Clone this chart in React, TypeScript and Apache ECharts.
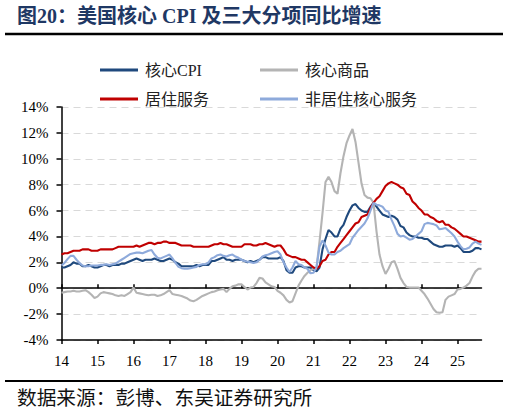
import React, { useEffect, useRef } from "react";
import * as echarts from "echarts";

// Year tick labels (Jan of each year)
const YEARS = ["14", "15", "16", "17", "18", "19", "20", "21", "22", "23", "24", "25"];
const MONTH_NUMS = ["01", "02", "03", "04", "05", "06", "07", "08", "09", "10", "11", "12"];
const LAST_MONTH_COUNT = 9; // data runs through 2025-09

const MONTHS: string[] = [];
YEARS.forEach((y, yi) => {
  const n = yi === YEARS.length - 1 ? LAST_MONTH_COUNT : 12;
  for (let m = 0; m < n; m++) MONTHS.push(`20${y}-${MONTH_NUMS[m]}`);
});

// 核心CPI, % YoY
const CORE_CPI = [
  1.6, 1.6, 1.7, 1.8, 2.0, 1.9, 1.9, 1.7, 1.7, 1.8, 1.7, 1.6,
  1.6, 1.7, 1.8, 1.8, 1.7, 1.8, 1.8, 1.8, 1.9, 1.9, 2.0, 2.1,
  2.2, 2.3, 2.2, 2.1, 2.2, 2.2, 2.2, 2.3, 2.2, 2.1, 2.1, 2.2,
  2.3, 2.2, 2.0, 1.9, 1.7, 1.7, 1.7, 1.7, 1.7, 1.8, 1.7, 1.8,
  1.8, 1.8, 2.1, 2.1, 2.2, 2.3, 2.4, 2.2, 2.2, 2.1, 2.2, 2.2,
  2.2, 2.1, 2.0, 2.1, 2.0, 2.1, 2.2, 2.4, 2.4, 2.3, 2.3, 2.3,
  2.3, 2.4, 2.1, 1.4, 1.2, 1.2, 1.6, 1.7, 1.7, 1.6, 1.6, 1.6,
  1.4, 1.3, 1.6, 3.0, 3.8, 4.5, 4.3, 4.0, 4.0, 4.6, 4.9, 5.5,
  6.0, 6.4, 6.5, 6.2, 6.0, 5.9, 5.9, 6.3, 6.6, 6.3, 6.0, 5.7,
  5.6, 5.5, 5.6, 5.5, 5.3, 4.8, 4.7, 4.3, 4.1, 4.0, 4.0, 3.9,
  3.9, 3.8, 3.8, 3.6, 3.4, 3.3, 3.2, 3.2, 3.3, 3.3, 3.3, 3.2,
  3.3, 3.1, 2.8, 2.8, 2.8, 2.9, 3.1, 3.1, 3.0,
];

// 核心商品, % YoY
const CORE_GOODS = [
  -0.35, -0.3, -0.25, -0.25, -0.2, -0.25, -0.25, -0.2, -0.15, -0.3, -0.5, -0.75,
  -0.65, -0.4, -0.3, -0.35, -0.4, -0.45, -0.55, -0.6, -0.55, -0.6, -0.45, -0.3,
  0.05, -0.35, -0.4, -0.45, -0.5, -0.55, -0.5, -0.5, -0.6, -0.55, -0.45, -0.3,
  -0.15, -0.45, -0.5, -0.55, -0.6, -0.7, -0.8, -0.95, -1.0, -0.9, -0.75, -0.6,
  -0.5, -0.4, -0.3, -0.25, -0.15, -0.1, -0.05, -0.3, -0.05, 0.15, 0.2, 0.3,
  0.3, 0.1, -0.1, 0.05, 0.1, 0.4, 0.8, 0.75, 0.45, 0.3, 0.15, 0.1,
  -0.2, -0.35, -0.55, -0.9, -1.1, -1.0, -0.4, 0.2, 0.6, 0.95, 1.2, 1.4,
  1.5, 1.6, 3.6, 5.8, 8.2, 8.6, 8.2, 7.5, 7.3, 8.9, 10.2, 11.2,
  11.8, 12.3, 11.3, 9.7, 8.1, 7.2, 7.0, 6.95, 6.6, 4.4, 2.6, 1.7,
  1.1, 1.5, 2.0, 2.1, 1.5, 0.8, 0.4, 0.1, 0.05, 0.05, 0.05, 0.05,
  -0.2, -0.45, -0.8, -1.2, -1.6, -1.85, -1.9, -1.85, -0.9, -0.65, -0.55, -0.45,
  -0.1, -0.05, 0.05, 0.2, 0.4, 0.9, 1.3, 1.5, 1.5,
];

// 居住服务, % YoY
const SHELTER = [
  2.6, 2.7, 2.7, 2.8, 2.9, 2.9, 2.9, 3.0, 3.0, 3.0, 2.9, 2.9,
  2.9, 3.0, 3.0, 3.0, 3.0, 3.0, 3.1, 3.2, 3.2, 3.2, 3.2, 3.2,
  3.2, 3.3, 3.2, 3.3, 3.4, 3.5, 3.5, 3.4, 3.5, 3.5, 3.6, 3.6,
  3.5, 3.5, 3.5, 3.4, 3.3, 3.3, 3.3, 3.3, 3.2, 3.2, 3.2, 3.2,
  3.2, 3.2, 3.3, 3.4, 3.4, 3.5, 3.4, 3.4, 3.3, 3.2, 3.2, 3.2,
  3.2, 3.4, 3.4, 3.4, 3.3, 3.3, 3.4, 3.4, 3.5, 3.4, 3.3, 3.2,
  3.3, 3.3, 3.0, 2.6, 2.5, 2.4, 2.4, 2.3, 2.2, 2.2, 2.0, 1.8,
  1.6, 1.5, 1.7, 2.1, 2.2, 2.6, 2.8, 2.8, 3.2, 3.5, 3.8, 4.1,
  4.4, 4.7, 5.0, 5.1, 5.5, 5.6, 5.7, 6.2, 6.6, 6.9, 7.1, 7.5,
  7.9, 8.1, 8.2, 8.1, 8.0, 7.8, 7.7, 7.3, 7.2, 6.7, 6.5, 6.2,
  6.0, 5.7, 5.7, 5.5, 5.4, 5.2, 5.1, 5.2, 4.9, 4.9, 4.7, 4.6,
  4.4, 4.2, 4.0, 4.0, 3.9, 3.8, 3.7, 3.6, 3.6,
];

// 非居住核心服务, % YoY
const SUPERCORE = [
  1.75, 1.95, 2.25, 2.5, 2.5, 2.2, 1.95, 1.75, 1.7, 1.7, 1.75, 1.75,
  1.75, 1.8, 1.8, 1.85, 1.8, 1.85, 1.9, 2.05, 2.2, 2.35, 2.5, 2.65,
  2.7, 2.75, 2.75, 2.7, 2.8, 2.9, 2.95, 2.6, 2.35, 2.3, 2.4, 2.5,
  2.6, 2.3, 1.95, 1.65, 1.55, 1.5, 1.5, 1.55, 1.6, 1.65, 1.8, 1.85,
  1.85, 2.0, 2.3, 2.4, 2.55, 2.6, 2.5, 2.45, 2.55, 2.6, 2.45, 2.35,
  2.2, 2.1, 2.05, 2.0, 1.95, 2.0, 2.2, 2.45, 2.55, 2.6, 2.7, 2.8,
  2.85, 2.6, 2.0, 1.6, 1.25, 1.6, 2.1, 1.85, 1.8, 1.6, 1.5, 1.15,
  1.2, 1.6, 3.2, 3.7, 3.3, 2.75, 2.6, 2.6, 2.8, 2.9, 3.1, 3.25,
  3.4, 3.9, 4.2, 4.5, 4.75, 5.0, 5.4, 6.0, 6.6, 6.45, 6.4, 6.3,
  6.0, 5.9, 5.3, 4.8, 4.2, 4.0, 4.05, 3.9, 3.75, 3.8, 4.0, 4.2,
  4.4, 4.95, 5.05, 5.0, 4.95, 4.85, 4.55, 4.6, 4.65, 4.45, 4.25, 4.0,
  3.6, 3.25, 3.0, 3.05, 3.15, 3.45, 3.6, 3.45, 3.35,
];

const SERIES_NAMES = ["核心CPI", "核心商品", "居住服务", "非居住核心服务"];
const SERIES_COLORS = ["#1F497D", "#B4B4B4", "#C00000", "#8EAADB"];
const SERIES_DATA = [CORE_CPI, CORE_GOODS, SHELTER, SUPERCORE];

const Y_MIN = -4;
const Y_MAX = 14;
const Y_STEP = 2;

const TITLE = "图20：美国核心 CPI 及三大分项同比增速";
const SOURCE = "数据来源：彭博、东吴证券研究所";

const SERIF = "'Liberation Serif', 'Times New Roman', 'Noto Sans CJK SC', serif";
const MIXED = "'Liberation Serif', 'Noto Sans CJK SC', serif";

const isYearStart = (index: number) => index % 12 === 0;

export default function App() {
  const ref = useRef<HTMLDivElement>(null);

  useEffect(() => {
    if (!ref.current) return;
    const chart = echarts.init(ref.current, undefined, { renderer: "svg" });

    const legendPos = [
      { left: 100, top: 62 },
      { left: 260, top: 62 },
      { left: 100, top: 91 },
      { left: 260, top: 91 },
    ];

    const baseX = {
      type: "category" as const,
      data: MONTHS,
      boundaryGap: false,
      position: "bottom" as const,
      splitLine: { show: false },
    };

    chart.setOption({
      animation: false,
      backgroundColor: "#ffffff",
      grid: { left: 61.5, top: 107, width: 420, height: 233, containLabel: false },
      legend: SERIES_NAMES.map((name, i) => ({
        data: [name],
        left: legendPos[i].left,
        top: legendPos[i].top,
        padding: 0,
        icon: "rect",
        itemWidth: 38,
        itemHeight: 3,
        textStyle: { fontSize: 16, fontFamily: MIXED, color: "#222", padding: [0, 0, 0, 2] },
      })),
      xAxis: [
        {
          ...baseX,
          axisLine: { show: true, onZero: true, lineStyle: { color: "#000", width: 1.5 } },
          axisTick: { show: true, inside: true, length: 4, interval: isYearStart, lineStyle: { color: "#000", width: 1.5 } },
          axisLabel: { show: false },
        },
        {
          ...baseX,
          axisLine: { show: true, onZero: true, lineStyle: { color: "#000", width: 1.5 } },
          axisTick: { show: true, inside: false, length: 4, interval: isYearStart, lineStyle: { color: "#000", width: 1.5 } },
          axisLabel: { show: false },
        },
        {
          ...baseX,
          axisLine: { show: false, onZero: false },
          axisTick: { show: false },
          axisLabel: {
            show: true,
            interval: isYearStart,
            margin: 13,
            fontSize: 15,
            fontFamily: SERIF,
            color: "#000",
            formatter: (_v: string, idx: number) => YEARS[Math.floor(idx / 12)],
          },
        },
      ],
      yAxis: {
        type: "value",
        min: Y_MIN,
        max: Y_MAX,
        interval: Y_STEP,
        axisLine: { show: true, onZero: false, lineStyle: { color: "#000", width: 1.5 } },
        axisTick: { show: true, inside: false, length: 5, lineStyle: { color: "#000", width: 1.5 } },
        axisLabel: {
          margin: 13,
          fontSize: 15,
          fontFamily: SERIF,
          color: "#000",
          formatter: (v: number) => `${v}%`,
        },
        splitLine: { show: true, lineStyle: { color: "#D9D9D9", width: 1, type: [7, 5] } },
      },
      series: SERIES_NAMES.map((name, i) => ({
        name,
        type: "line",
        xAxisIndex: 0,
        data: SERIES_DATA[i],
        showSymbol: false,
        symbol: "none",
        smooth: false,
        lineStyle: { color: SERIES_COLORS[i], width: 2.1 },
        itemStyle: { color: SERIES_COLORS[i] },
        z: 2 + i,
      })),
      graphic: [
        {
          type: "text",
          x: 17,
          y: 16,
          style: {
            text: TITLE,
            fill: "#1F3864",
            fontSize: 20,
            fontWeight: "bold",
            fontFamily: MIXED,
            verticalAlign: "middle",
          },
        },
        {
          type: "line",
          shape: { x1: 5, y1: 34, x2: 503, y2: 34 },
          style: { stroke: "#000", lineWidth: 2.5 },
        },
        {
          type: "line",
          shape: { x1: 5, y1: 381, x2: 503, y2: 381 },
          style: { stroke: "#000", lineWidth: 2 },
        },
        {
          type: "text",
          x: 17,
          y: 398,
          style: {
            text: SOURCE,
            fill: "#111",
            fontSize: 19.7,
            fontFamily: MIXED,
            verticalAlign: "middle",
          },
        },
      ],
    });

    return () => chart.dispose();
  }, []);

  return (
    <div
      ref={ref}
      style={{ position: "fixed", left: 0, top: 0, width: 509, height: 413, background: "#fff" }}
    />
  );
}
